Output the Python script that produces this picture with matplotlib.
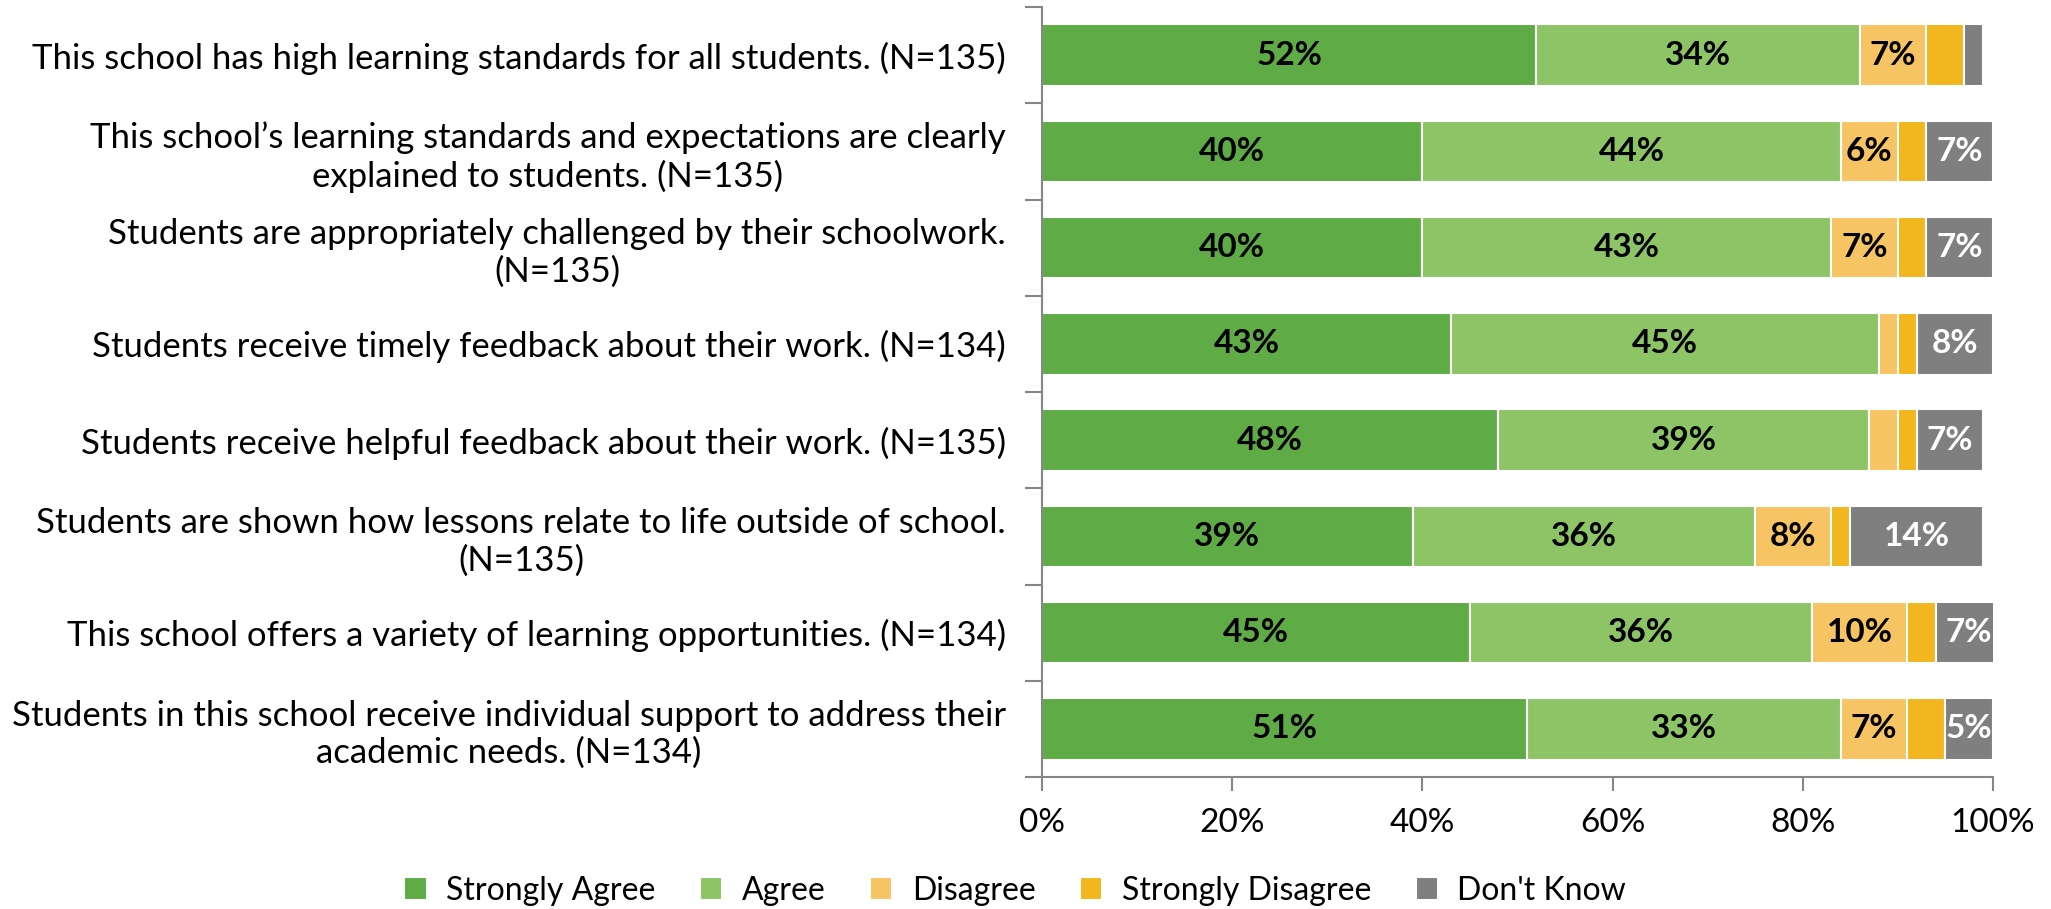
import matplotlib
matplotlib.use("Agg")
import matplotlib.pyplot as plt
import numpy as np

plt.rcParams['font.family'] = ['Lato', 'DejaVu Sans']

questions = [
    "This school has high learning standards for all students. (N=135)",
    "This school\u2019s learning standards and expectations are clearly\nexplained to students. (N=135)",
    "Students are appropriately challenged by their schoolwork.\n(N=135)",
    "Students receive timely feedback about their work. (N=134)",
    "Students receive helpful feedback about their work. (N=135)",
    "Students are shown how lessons relate to life outside of school.\n(N=135)",
    "This school offers a variety of learning opportunities. (N=134)",
    "Students in this school receive individual support to address their\nacademic needs. (N=134)",
]
series_names = ["Strongly Agree", "Agree", "Disagree", "Strongly Disagree", "Don't Know"]
strongly_agree = [52, 40, 40, 43, 48, 39, 45, 51]
agree = [34, 44, 43, 45, 39, 36, 36, 33]
disagree = [7, 6, 7, 2, 3, 8, 10, 7]
strongly_disagree = [4, 3, 3, 2, 2, 2, 3, 4]
dont_know = [2, 7, 7, 8, 7, 14, 7, 5]
xticks = [0, 20, 40, 60, 80, 100]

colors = ["#5fab46", "#8cc466", "#f6c462", "#f2b61e", "#7f7f7f"]
label_colors = ["black", "black", "black", "black", "white"]

fig = plt.figure(figsize=(20.51, 9.09), dpi=100)
ax = fig.add_axes([0.508, 0.1452, 0.4637, 0.8471])

data = [strongly_agree, agree, disagree, strongly_disagree, dont_know]
y = np.arange(len(questions))
left = np.zeros(len(questions))
for i, vals in enumerate(data):
    vals = np.array(vals, dtype=float)
    ax.barh(y, vals, left=left, height=0.64, color=colors[i],
            edgecolor="white", linewidth=1.5, label=series_names[i])
    for j, v in enumerate(vals):
        if v >= 5 and i != 3:
            ax.text(left[j] + v / 2, y[j], "%d%%" % v, ha="center", va="center",
                    fontsize=24, fontweight="bold", color=label_colors[i])
    left += vals

ax.set_xlim(0, 100)
ax.set_ylim(len(questions) - 0.5, -0.5)
ax.set_xticks(xticks)
ax.set_xticklabels(["%d%%" % t for t in xticks], fontsize=24)
ax.set_yticks(y)
ax.set_yticklabels(questions, fontsize=25, multialignment="center")
ax.set_yticks(np.arange(len(questions) + 1) - 0.5, minor=True)
ax.tick_params(axis="y", which="major", length=0, pad=26)
ax.tick_params(axis="y", which="minor", length=12, color="#868686", width=1.5)
ax.tick_params(axis="x", length=10, color="#868686", width=1.5, pad=12)

for s in ["top", "right"]:
    ax.spines[s].set_visible(False)
for s in ["left", "bottom"]:
    ax.spines[s].set_color("#868686")
    ax.spines[s].set_linewidth(1.5)

fig.legend(*ax.get_legend_handles_labels(), loc="center", ncol=5,
           bbox_to_anchor=(0.495, 0.02), frameon=False, fontsize=23,
           handlelength=0.7, handleheight=0.7, handletextpad=0.6, columnspacing=1.4)

fig.savefig("out.png", dpi=100)
